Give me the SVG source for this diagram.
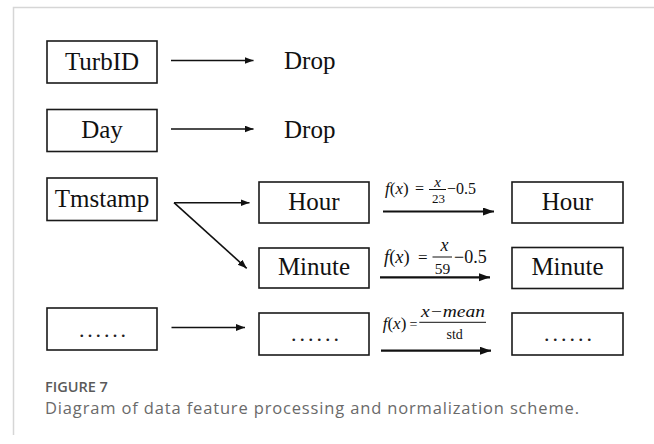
<svg xmlns="http://www.w3.org/2000/svg" width="654" height="444" viewBox="0 0 654 444">
  <defs>
    <style>
      .frame { fill: none; stroke: #d6d6d6; stroke-width: 1.5; }
      .box { fill: #ffffff; stroke: #1a1a1a; stroke-width: 1.6; }
      .lbl { font-family: "Liberation Serif", "Times New Roman", serif; font-size: 25px; fill: #111; text-anchor: middle; }
      .drop { font-family: "Liberation Serif", "Times New Roman", serif; font-size: 25px; fill: #111; }
      .dots { font-family: "Liberation Serif", "Times New Roman", serif; font-size: 22px; fill: #222; }
      .edge { stroke: #111; stroke-width: 1.6; fill: none; marker-end: url(#head); }
      .edge-bold { stroke: #111; stroke-width: 2.2; fill: none; marker-end: url(#headBold); }
      .math { font-family: "Liberation Serif", "Times New Roman", serif; fill: #111; }
      .it { font-style: italic; }
      .bar { stroke: #111; stroke-width: 1; }
      .cap-title { font-family: "Open Sans", "Noto Sans", sans-serif; font-size: 14.5px; font-weight: 600; fill: #5a5a5a; }
      .cap-text { font-family: "Open Sans", "Noto Sans", sans-serif; font-size: 16.5px; fill: #6a6a6a; }
    </style>
    <marker id="head" markerUnits="userSpaceOnUse" markerWidth="10" markerHeight="8" refX="9" refY="3.5" orient="auto">
      <path d="M0,0 L9,3.5 L0,7 Z" fill="#111"/>
    </marker>
    <marker id="headBold" markerUnits="userSpaceOnUse" markerWidth="12" markerHeight="10" refX="11" refY="4" orient="auto">
      <path d="M0,0 L11,4 L0,8 Z" fill="#111"/>
    </marker>
  </defs>

  <!-- page frame -->
  <path class="frame" d="M654,7.5 H13.5 V435"/>

  <!-- input features -->
  <g id="turbid">
    <rect class="box" x="47" y="41" width="110" height="42"/>
    <text class="lbl" x="102" y="70">TurbID</text>
  </g>
  <g id="drop-turbid">
    <text class="drop" x="284" y="69">Drop</text>
  </g>
  <g id="day">
    <rect class="box" x="47" y="109.5" width="110" height="42"/>
    <text class="lbl" x="102" y="138">Day</text>
  </g>
  <g id="drop-day">
    <text class="drop" x="284" y="137.5">Drop</text>
  </g>
  <g id="tmstamp">
    <rect class="box" x="47" y="178" width="110" height="42.5"/>
    <text class="lbl" x="102" y="207">Tmstamp</text>
  </g>
  <g id="other-in">
    <rect class="box" x="47" y="308" width="110" height="42"/>
    <text class="dots" x="79" y="337" textLength="47">......</text>
  </g>

  <!-- derived features -->
  <g id="hour">
    <rect class="box" x="259" y="182" width="110" height="41"/>
    <text class="lbl" x="314" y="210">Hour</text>
  </g>
  <g id="minute">
    <rect class="box" x="259" y="248" width="110" height="40"/>
    <text class="lbl" x="314" y="275">Minute</text>
  </g>
  <g id="other-mid">
    <rect class="box" x="259" y="313" width="110" height="42"/>
    <text class="dots" x="291" y="341" textLength="48">......</text>
  </g>

  <!-- normalized features -->
  <g id="hour-norm">
    <rect class="box" x="512" y="182" width="111" height="41"/>
    <text class="lbl" x="567.5" y="210">Hour</text>
  </g>
  <g id="minute-norm">
    <rect class="box" x="512" y="247.5" width="111" height="41"/>
    <text class="lbl" x="567.5" y="275">Minute</text>
  </g>
  <g id="other-norm">
    <rect class="box" x="512" y="313" width="111" height="42"/>
    <text class="dots" x="544" y="341" textLength="48">......</text>
  </g>

  <!-- connectors -->
  <g id="connectors">
    <line class="edge" x1="171" y1="60.5" x2="253.5" y2="60.5"/>
    <line class="edge" x1="171" y1="129" x2="253.5" y2="129"/>
    <line class="edge" x1="174" y1="202.7" x2="249.5" y2="202.7"/>
    <line class="edge" x1="174" y1="202.7" x2="246.7" y2="268.3"/>
    <line class="edge" x1="171.5" y1="327.5" x2="245" y2="327.5"/>
    <line class="edge-bold" x1="383" y1="211.5" x2="494" y2="211.5"/>
    <line class="edge-bold" x1="380" y1="277.3" x2="490" y2="277.3"/>
    <line class="edge-bold" x1="381" y1="350.7" x2="491" y2="350.7"/>
  </g>

  <!-- normalization formulas -->
  <g id="formula-hour" class="math">
    <text x="385" y="194" font-size="17"><tspan class="it">f</tspan>(<tspan class="it">x</tspan>)</text>
    <text x="415" y="194" font-size="16">=</text>
    <line class="bar" x1="429" y1="189.5" x2="446" y2="189.5"/>
    <text class="it" x="437.5" y="186.5" font-size="15" text-anchor="middle">x</text>
    <text x="438.5" y="203.3" font-size="13" text-anchor="middle">23</text>
    <text x="447" y="194" font-size="16">−0.5</text>
  </g>
  <g id="formula-minute" class="math">
    <text x="384" y="263.3" font-size="18.5"><tspan class="it">f</tspan>(<tspan class="it">x</tspan>)</text>
    <text x="418" y="263.3" font-size="17">=</text>
    <line class="bar" x1="432.5" y1="257" x2="452" y2="257"/>
    <text class="it" x="444.5" y="250.7" font-size="18" text-anchor="middle">x</text>
    <text x="442.5" y="274.3" font-size="15.5" text-anchor="middle">59</text>
    <text x="454" y="262.5" font-size="18">−0.5</text>
  </g>
  <g id="formula-other" class="math">
    <text x="382.7" y="328.7" font-size="17"><tspan class="it">f</tspan>(<tspan class="it">x</tspan>)</text>
    <text x="409.5" y="328.7" font-size="14">=</text>
    <line class="bar" x1="419.3" y1="322.3" x2="486" y2="322.3"/>
    <text class="it" x="421" y="317.3" font-size="16" textLength="64" lengthAdjust="spacingAndGlyphs">x−mean</text>
    <text x="454.7" y="338.7" font-size="14" text-anchor="middle">std</text>
  </g>

  <!-- caption -->
  <text class="cap-title" x="45" y="391.5">FIGURE 7</text>
  <text class="cap-text" x="45" y="413.5" textLength="534">Diagram of data feature processing and normalization scheme.</text>
</svg>
